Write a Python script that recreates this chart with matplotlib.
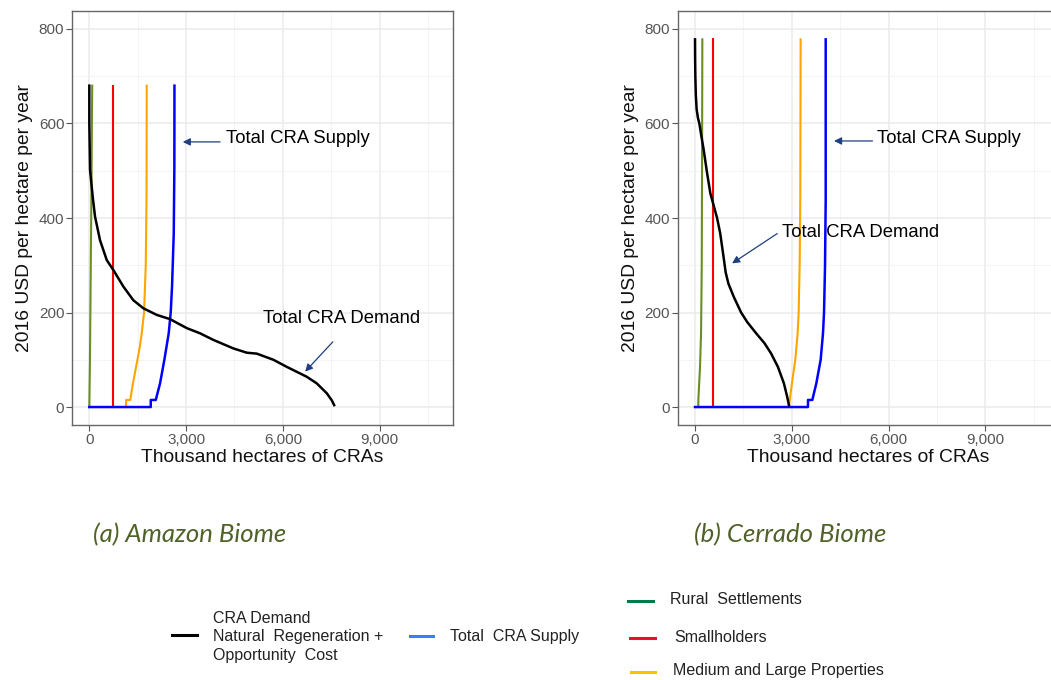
import matplotlib
matplotlib.use("Agg")
import matplotlib.pyplot as plt
from matplotlib.lines import Line2D
from matplotlib.ticker import FuncFormatter, MultipleLocator

plt.rcParams['font.family'] = ['Liberation Sans', 'DejaVu Sans']

# ---- Amazon biome curves (thousand ha, USD/ha/yr) ----
amz_demand_x = [0, 0, 22, 105, 177, 332, 540, 745, 1055, 1365, 1675, 2090, 2503, 3021,
                3434, 3848, 4468, 4882, 5192, 5709, 6123, 6744, 7054, 7365, 7520, 7592]
amz_demand_y = [680, 600, 502, 445, 403, 353, 311, 290, 255, 226, 209, 195, 186, 167,
                156, 142, 124, 115, 113, 100, 85, 64, 50, 29, 14, 4]
amz_rural_x = [0, 20, 45, 65, 80, 90]
amz_rural_y = [0, 100, 300, 450, 600, 680]
amz_small_x = [745, 745]
amz_small_y = [0, 680]
amz_medium_x = [1140, 1140, 1270, 1340, 1450, 1560, 1625, 1697, 1750, 1775, 1780]
amz_medium_y = [0, 15, 15, 45, 85, 125, 156, 200, 300, 450, 680]
amz_supply_x = [0, 1905, 1905, 2060, 2193, 2327, 2462, 2524, 2565, 2618, 2637, 2640]
amz_supply_y = [0, 0, 15, 15, 50, 100, 156, 200, 255, 367, 508, 680]

# ---- Cerrado biome curves ----
cer_demand_x = [0, 3, 10, 25, 50, 90, 134, 200, 270, 363, 476, 684, 780, 870, 950, 1036,
                1203, 1430, 1617, 1896, 2155, 2362, 2570, 2757, 2860, 2912]
cer_demand_y = [778, 740, 700, 660, 630, 612, 600, 572, 544, 500, 452, 400, 368, 325, 285,
                261, 233, 200, 180, 156, 135, 113, 85, 50, 21, 4]
cer_rural_x = [100, 103, 155, 187, 208, 218, 227]
cer_rural_y = [0, 14, 85, 156, 297, 508, 778]
cer_small_x = [560, 560]
cer_small_y = [0, 778]
cer_medium_x = [2910, 3005, 3109, 3182, 3213, 3244, 3264, 3275]
cer_medium_y = [0, 50, 100, 156, 200, 297, 438, 778]
cer_supply_x = [0, 3503, 3503, 3637, 3761, 3896, 3968, 4000, 4031, 4052, 4052]
cer_supply_y = [0, 0, 15, 15, 50, 100, 156, 200, 297, 438, 778]

x_ticks = [0, 3000, 6000, 9000]
y_ticks = [0, 200, 400, 600, 800]

GREEN = "#6b8e23"
RED = "#ff0000"
ORANGE = "#ffa500"
BLUE = "#0000ff"
ARROW = "#1f3f80"

fig = plt.figure(figsize=(10.51, 6.8), dpi=100)
W, H = 1051.0, 680.0


def px_axes(x0, x1, y0, y1):
    return fig.add_axes([x0 / W, 1 - y1 / H, (x1 - x0) / W, (y1 - y0) / H])


def style(ax):
    ax.set_xlim(-537, 11277)
    ax.set_ylim(-38, 838)
    ax.set_xticks(x_ticks)
    ax.set_yticks(y_ticks)
    ax.xaxis.set_minor_locator(MultipleLocator(1500))
    ax.yaxis.set_minor_locator(MultipleLocator(100))
    ax.xaxis.set_major_formatter(FuncFormatter(lambda v, p: f"{int(v):,}"))
    ax.grid(True, which="major", color="#ebebeb", lw=1.1, zorder=0)
    ax.grid(True, which="minor", color="#f2f2f2", lw=0.6, zorder=0)
    ax.set_axisbelow(True)
    ax.tick_params(which="major", length=4, width=0.8, color="#555555",
                   labelcolor="#555555", labelsize=11, pad=1.5)
    ax.tick_params(which="minor", length=0)
    for s in ax.spines.values():
        s.set_color("#666666")
        s.set_linewidth(1.0)
    ax.set_xlabel("Thousand hectares of CRAs", fontsize=13.9, color="#111111", labelpad=2)
    ax.set_ylabel("2016 USD per hectare per year", fontsize=13.9, color="#111111", labelpad=4)


def draw(ax, rural, small, medium, supply, demand):
    ax.plot(*rural, color=GREEN, lw=1.5, zorder=3)
    ax.plot(*small, color=RED, lw=1.5, zorder=3)
    ax.plot(*medium, color=ORANGE, lw=1.5, zorder=3)
    ax.plot(*supply, color=BLUE, lw=1.8, zorder=4)
    ax.plot(*demand, color="black", lw=1.8, zorder=5)


def note(ax, text, txy, tail, head):
    ax.annotate("", xy=head, xytext=tail,
                arrowprops=dict(arrowstyle="-|>", color=ARROW, lw=0.9,
                                mutation_scale=11, shrinkA=0, shrinkB=0), zorder=6)
    ax.text(txy[0], txy[1], text, fontsize=13.3, va="center", ha="left", color="black", zorder=7)


ax1 = px_axes(72, 453, 11, 425)
style(ax1)
draw(ax1, (amz_rural_x, amz_rural_y), (amz_small_x, amz_small_y),
     (amz_medium_x, amz_medium_y), (amz_supply_x, amz_supply_y),
     (amz_demand_x, amz_demand_y))
note(ax1, "Total CRA Supply", (4232, 569), (4055, 561), (2898, 561))
note(ax1, "Total CRA Demand", (5398, 188), (7551, 138), (6692, 75))

ax2 = px_axes(677.7, 1058.7, 11, 425)
style(ax2)
draw(ax2, (cer_rural_x, cer_rural_y), (cer_small_x, cer_small_y),
     (cer_medium_x, cer_medium_y), (cer_supply_x, cer_supply_y),
     (cer_demand_x, cer_demand_y))
note(ax2, "Total CRA Supply", (5655, 569), (5503, 563), (4311, 563))
note(ax2, "Total CRA Demand", (2705, 369), (2549, 367), (1150, 304))

# captions
cap = dict(fontsize=18.5, style="italic", color="#4f6228", family=["Lato", "DejaVu Sans"],
           ha="center", va="center")
fig.text(190 / W, 1 - 535 / H, "(a) Amazon Biome", **cap)
fig.text(790 / W, 1 - 535 / H, "(b) Cerrado Biome", **cap)

# manual legend
legend_items = [
    ((172, 197, 635), "#000000", (213, 637), "CRA Demand\nNatural  Regeneration +\nOpportunity  Cost"),
    ((410, 433, 636), "#3c7cff", (450, 636), "Total  CRA Supply"),
    ((628, 653, 601), "#007a4d", (670, 600), "Rural  Settlements"),
    ((630, 655, 638), "#e8112d", (674, 637), "Smallholders"),
    ((631, 655, 672), "#ffc000", (673, 671), "Medium and Large Properties"),
]
for (lx0, lx1, ly), col, (tx, ty), label in legend_items:
    fig.add_artist(Line2D([lx0 / W, lx1 / W], [1 - ly / H, 1 - ly / H],
                          color=col, lw=2.2, transform=fig.transFigure))
    fig.text(tx / W, 1 - ty / H, label, fontsize=11.5, ha="left", va="center",
             color="#222222", linespacing=1.3)

fig.savefig("out.png", dpi=100)
